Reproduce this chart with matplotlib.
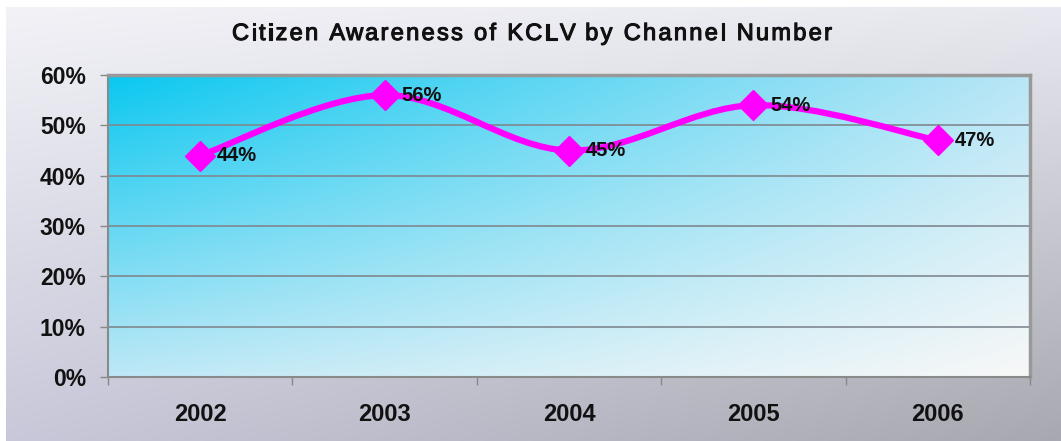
import numpy as np
import matplotlib.pyplot as plt
import matplotlib.patheffects as pe
from matplotlib.path import Path
from matplotlib.patches import PathPatch
from matplotlib.ticker import FuncFormatter, FixedLocator
from matplotlib.font_manager import FontProperties

years = ["2002", "2003", "2004", "2005", "2006"]
awareness = [44, 56, 45, 54, 47]
title = "Citizen Awareness of KCLV by Channel Number"

plt.rcParams['font.family'] = ['Liberation Sans', 'DejaVu Sans']

W, H = 1061, 441
fig = plt.figure(figsize=(W / 100, H / 100), dpi=100, facecolor="white")


def corner_gradient(tl, tr, bl, br, n=200):
    u = np.linspace(0, 1, n)[None, :, None]
    v = np.linspace(0, 1, n)[:, None, None]
    tl, tr, bl, br = [np.array(c, float)[None, None, :] / 255 for c in (tl, tr, bl, br)]
    top = tl * (1 - u) + tr * u
    bot = bl * (1 - u) + br * u
    return top * (1 - v) + bot * v


# outer background
bg = fig.add_axes([6 / W, 0, 1 - 6 / W, 1 - 7 / H])
bg.imshow(corner_gradient((242, 242, 247), (232, 232, 240), (200, 200, 218), (168, 168, 176)),
          aspect="auto", extent=[0, 1, 0, 1], interpolation="bilinear")
bg.axis("off")

# plot area
x0, x1, y0, y1 = 108, 1030, 75, 377
ax = fig.add_axes([x0 / W, 1 - y1 / H, (x1 - x0) / W, (y1 - y0) / H])
ax.set_facecolor("none")
ax.imshow(corner_gradient((10, 200, 240), (185, 230, 246), (190, 232, 246), (248, 248, 248)),
          aspect="auto", extent=[0, 1, 0, 1], transform=ax.transAxes,
          interpolation="bilinear", zorder=0)

x = np.arange(len(years))
y = np.array(awareness, float)
ax.set_xlim(-0.5, len(years) - 0.5)
ax.set_ylim(0, 60)

# smoothed line (Catmull-Rom -> cubic bezier)
verts = [(x[0], y[0])]
codes = [Path.MOVETO]
px = np.concatenate([[x[0]], x, [x[-1]]])
py = np.concatenate([[y[0]], y, [y[-1]]])
for i in range(1, len(x)):
    a, b, c, d = i - 1, i, i + 1, i + 2
    c1 = (px[b] + (px[c] - px[a]) / 6, py[b] + (py[c] - py[a]) / 6)
    c2 = (px[c] - (px[d] - px[b]) / 6, py[c] - (py[d] - py[b]) / 6)
    verts += [c1, c2, (px[c], py[c])]
    codes += [Path.CURVE4] * 3
ax.add_patch(PathPatch(Path(verts, codes), fill=False, edgecolor="#ff00ff", lw=4.5,
                       capstyle="round", joinstyle="round", zorder=3))
ax.plot(x, y, linestyle="none", marker="D", ms=15, color="#ff00ff", zorder=4)

for xi, yi in zip(x, y):
    ax.annotate(f"{int(yi)}%", (xi, yi), xytext=(12, 0), textcoords="offset points",
                fontsize=14.5, fontweight="bold", color="#111111", va="center", ha="left", zorder=5)

# grid and axes
ax.yaxis.set_major_locator(FixedLocator(np.arange(0, 61, 10)))
ax.yaxis.set_major_formatter(FuncFormatter(lambda v, p: f"{int(v)}%"))
ax.grid(axis="y", color="#7f8890", lw=1.2, zorder=1)
ax.set_axisbelow(True)
ax.set_xticks(x)
ax.set_xticklabels(years)
ax.set_xticks(np.arange(-0.5, len(years)), minor=True)
ax.tick_params(axis="x", which="major", length=0, pad=19, labelsize=17, labelcolor="#111111")
ax.tick_params(axis="x", which="minor", length=6, width=1, color="#888888", direction="out")
ax.tick_params(axis="y", length=6, width=1, color="#888888", pad=10, labelsize=16.5, labelcolor="#111111")
for lab in ax.get_xticklabels() + ax.get_yticklabels():
    lab.set_fontweight("bold")
for side in ["left", "bottom"]:
    ax.spines[side].set_color("#8a8a8a")
    ax.spines[side].set_linewidth(1.5)
for side in ["top", "right"]:
    ax.spines[side].set_color("#999999")
    ax.spines[side].set_linewidth(2.5)

# title with a little extra letter spacing
prop = FontProperties(family="Liberation Sans", size=17)
renderer = fig.canvas.get_renderer()


def text_w(s):
    return renderer.get_text_width_height_descent(s, prop, ismath=False)[0]


target_w = 600
track = (target_w - text_w(title)) / (len(title) - 1)
start = 532 - target_w / 2
for i, ch in enumerate(title):
    if ch == " ":
        continue
    xpos = start + text_w(title[:i]) + i * track
    fig.text(xpos / W, 1 - 40 / H, ch, ha="left", va="baseline",
             fontproperties=prop, color="#111111",
             path_effects=[pe.withStroke(linewidth=0.8, foreground="#111111")])

fig.savefig("out.png", dpi=100, facecolor=fig.get_facecolor())
